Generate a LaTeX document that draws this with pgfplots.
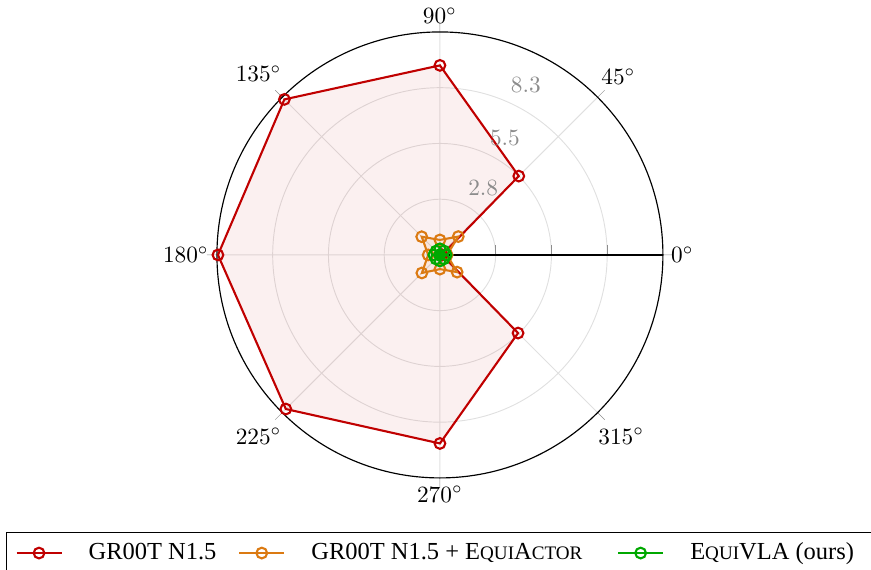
\documentclass[border=0pt]{standalone}
\usepackage{fontspec}
\setmainfont{Liberation Serif}
\usepackage{pgfplots}
\pgfplotsset{compat=1.18}
\usepgfplotslibrary{polar}
\definecolor{cred}{RGB}{192,0,0}
\definecolor{corange}{RGB}{219,122,18}
\definecolor{cgreen}{RGB}{0,168,0}
\newcommand\fsc[1]{{\fontsize{8.2pt}{9pt}\selectfont #1}}
\begin{document}
\begin{tikzpicture}
\begin{polaraxis}[
  width=191.4pt, scale only axis,
  ymin=0, ymax=11,
  xtick={0,45,...,315},
  xticklabel={$\pgfmathprintnumber{\tick}^\circ$},
  ytick={2.75,5.5,8.25},
  yticklabels={},
  grid=major,
  grid style={black!12, line width=0.4pt},
  major tick style={black!45},
  axis line style={black, line width=0.5pt},
  legend columns=3,
  legend style={
    at={(0.5,0)}, anchor=north west, xshift=-186.3pt, yshift=-23.2pt,
    draw=black, line width=0.5pt, fill=white,
    inner xsep=3.9pt, inner ysep=4.4pt,
    font=\fontsize{10.5pt}{12pt}\selectfont,
    nodes={inner sep=0pt, anchor=west},
    /tikz/every odd column/.append style={column sep=11.2pt},
    /tikz/every even column/.append style={column sep=12.2pt},
  },
  legend image code/.code={\draw[mark repeat=2,mark phase=2] plot coordinates {(0pt,0pt)(9.65pt,0pt)(19.3pt,0pt)};},
]
\coordinate (C) at (axis cs:0,0);
\addplot[cred, line width=0.9pt, fill=cred, fill opacity=0.06, mark=o, mark size=2.3pt,
  mark options={fill=cred!15, fill opacity=1, line width=0.9pt}]
  coordinates {(0,0.1) (45,5.5) (90,9.35) (135,10.85) (180,10.95) (225,10.75) (270,9.3) (315,5.45) (360,0.1)};
\addlegendentry{\makebox[52pt][l]{GR00T N1.5}}
\addplot[corange, line width=0.9pt, fill=corange, fill opacity=0.08, mark=o, mark size=2.3pt,
  mark options={fill=corange!15, fill opacity=1, line width=0.9pt}]
  coordinates {(0,0.35) (45,1.28) (90,0.74) (135,1.27) (180,0.58) (225,1.26) (270,0.7) (315,1.2) (360,0.35)};
\addlegendentry{\makebox[119pt][l]{GR00T N1.5 + E\fsc{QUI}A\fsc{CTOR}}}
\addplot[cgreen, line width=0.9pt, fill=cgreen, fill opacity=0.12, mark=o, mark size=2.3pt,
  mark options={fill=cgreen!15, fill opacity=1, line width=0.9pt}]
  coordinates {(0,0.3) (45,0.28) (90,0.3) (135,0.27) (180,0.3) (225,0.28) (270,0.3) (315,0.28) (360,0.3)};
\addlegendentry{\makebox[76pt][l]{E\fsc{QUI}VLA (ours)}}
\node[text=black!45] at (axis cs:57,3.92) {$2.8$};
\node[text=black!45] at (axis cs:60.9,6.59) {$5.5$};
\node[text=black!45] at (axis cs:63.2,9.4) {$8.3$};
\end{polaraxis}
\pgfresetboundingbox
\path[use as bounding box] ([xshift=-188.8pt,yshift=109.4pt]C) rectangle ([xshift=185pt,yshift=-134.8pt]C);
\end{tikzpicture}
\end{document}
